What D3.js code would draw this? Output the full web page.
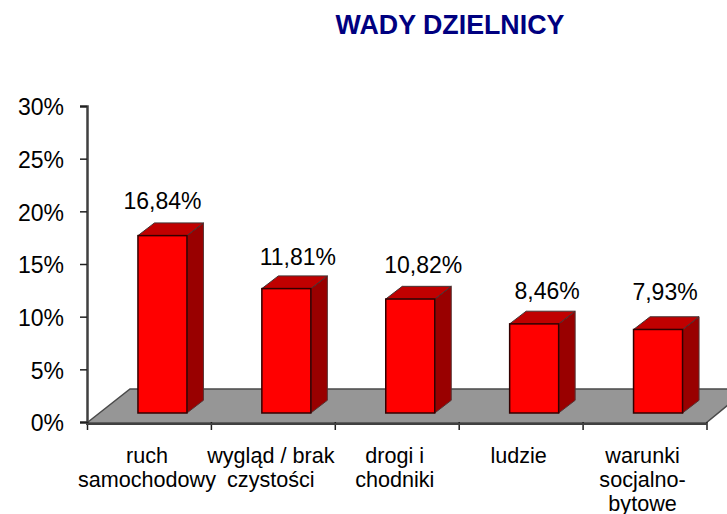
<!DOCTYPE html>
<html><head><meta charset="utf-8">
<script src="https://cdnjs.cloudflare.com/ajax/libs/d3/7.8.5/d3.min.js"></script>
<style>html,body{margin:0;padding:0;background:#fff}svg{display:block}text{font-family:"Liberation Sans",Arial,sans-serif;fill:#000}</style>
</head><body><div id="c"></div>
<script>
const categories=[["ruch","samochodowy"],["wygląd / brak","czystości"],["drogi i","chodniki"],["ludzie"],["warunki","socjalno-","bytowe"]];
const values=[16.84,11.81,10.82,8.46,7.93];
const labels=["16,84%","11,81%","10,82%","8,46%","7,93%"];
const yTicks=[0,5,10,15,20,25,30];
const labelShiftX=[0,11.5,13,13,7];
const labelGapY=[27,24,26,25,29];
const W=727,H=514,dx=16.5,dy=12.7;
const svg=d3.select("#c").append("svg").attr("width",W).attr("height",H);
const x=d3.scaleBand().domain(d3.range(5)).range([87.5,707]);
const y=d3.scaleLinear().domain([0,30]).range([422,106]);
const off=9;
svg.append("text").attr("x",450).attr("y",34).attr("text-anchor","middle").attr("font-size",26.8).attr("font-weight","bold").style("fill","#000080").text("WADY DZIELNICY");
const fl=d3.path();fl.moveTo(88,422);fl.lineTo(130,389);fl.lineTo(728,389);fl.lineTo(728,405);fl.lineTo(706,423);fl.lineTo(88,423);fl.closePath();
svg.append("path").attr("d",fl).attr("fill","#969696").attr("stroke","#4a4a4a").attr("stroke-width",1.5);
const ya=d3.axisLeft(y).tickValues(yTicks).tickSize(7).tickFormat(d=>d+"%").tickPadding(16);
const gy=svg.append("g").attr("transform","translate(87,0)").call(ya);
gy.select(".domain").attr("stroke","#404040").attr("stroke-width",2.5);
gy.selectAll("line").attr("stroke","#202020").attr("stroke-width",1.5);
gy.selectAll("text").attr("font-size",23).attr("text-anchor","end").attr("dy","0.39em");
svg.append("g").selectAll("line").data(d3.range(6)).join("line")
 .attr("x1",i=>i<5?x(i):707).attr("x2",i=>i<5?x(i):707).attr("y1",422).attr("y2",430).attr("stroke","#202020").attr("stroke-width",1.5);
svg.append("line").attr("x1",86).attr("x2",707).attr("y1",424).attr("y2",424).attr("stroke","#404040").attr("stroke-width",2);
const bw=49;
const bars=svg.append("g").selectAll("g").data(values).join("g");
const bx=(d,i)=>x(i)+x.bandwidth()/2-bw/2+13;
bars.append("path").attr("d",(d,i)=>{const l=bx(d,i),r=l+bw,t=y(d)-off,b=y(0)-off;return `M${r},${t}L${r+dx},${t-dy}L${r+dx},${b-dy}L${r},${b}Z`}).attr("fill","#990000").attr("stroke","#553333").attr("stroke-width",1);
bars.append("path").attr("d",(d,i)=>{const l=bx(d,i),r=l+bw,t=y(d)-off;return `M${l},${t}L${l+dx},${t-dy}L${r+dx},${t-dy}L${r},${t}Z`}).attr("fill","#c00000").attr("stroke","#443333").attr("stroke-width",1);
bars.append("rect").attr("x",bx).attr("y",d=>y(d)-off).attr("width",bw).attr("height",d=>y(0)-y(d)).attr("fill","#ff0000").attr("stroke","#330000").attr("stroke-width",1.5);
bars.append("text").attr("x",(d,i)=>bx(d,i)+bw/2+labelShiftX[i]).attr("y",(d,i)=>y(d)-off-labelGapY[i]).attr("text-anchor","middle").attr("font-size",23).text((d,i)=>labels[i]);
svg.append("g").selectAll("text").data(categories).join("text")
 .attr("text-anchor","middle").attr("font-size",21.6)
 .each(function(c,i){d3.select(this).selectAll("tspan").data(c).join("tspan")
   .attr("x",x(i)+x.bandwidth()/2-2.5).attr("y",(t,j)=>462.5+j*24).text(t=>t)});
</script></body></html>
